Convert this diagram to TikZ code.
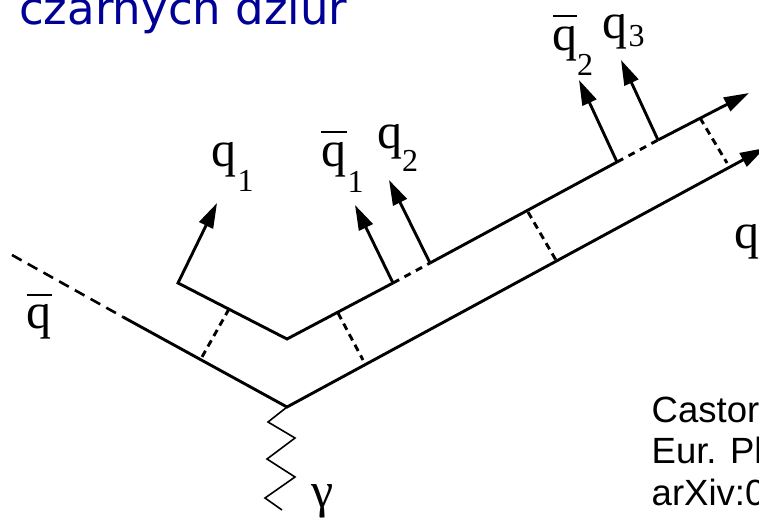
\documentclass[tikz,border=0pt]{standalone}
\usepackage{fontspec}
\setmainfont{Liberation Serif}
\newfontfamily\refsans{Liberation Sans}
\newfontfamily\titlesans{DejaVu Sans}
\usetikzlibrary{arrows.meta}
\definecolor{titleblue}{RGB}{0,0,150}
\begin{document}
\begin{tikzpicture}[x=1pt,y=-1pt,
  quark/.style={line width=2.9pt, line join=miter},
  gluon/.style={line width=2.9pt, dash pattern=on 7pt off 5pt},
  qdash/.style={line width=2.9pt, dash pattern=on 7pt off 6pt},
  farq/.style={line width=2.6pt, dash pattern=on 11pt off 7pt},
  emit/.style={line width=2.9pt,-{Triangle[length=25pt,width=15pt]}},
  photon/.style={line width=1.6pt, line join=miter},
  qlab/.style={anchor=base west, inner sep=0pt, font=\fontsize{50}{50}\selectfont},
  sublab/.style={anchor=base west, inner sep=0pt, font=\fontsize{32}{32}\selectfont},
  qbar/.style={line width=2.2pt},
  reftext/.style={anchor=base west, inner sep=0pt, font=\refsans\fontsize{36.5}{36.5}\selectfont},
]
\useasboundingbox (0,0) rectangle (759,519);
\clip (0,0) rectangle (759,519);

% title (cut off at the top)
\node[anchor=base west, inner sep=0pt, text=titleblue,
      font=\titlesans\fontsize{45}{45}\selectfont] (title) at (19,25) {czarnych dziur};

% junction points
\coordinate (V)  at (287,407);
\coordinate (A)  at (123,317);
\coordinate (D0) at (12,255);
\coordinate (L)  at (765,148);
\coordinate (P1) at (178,283);
\coordinate (P2) at (287,339);
\coordinate (P3) at (393,283);
\coordinate (P4) at (430,263);
\coordinate (P5) at (617,162);
\coordinate (P6) at (658,140);
\coordinate (P7) at (749,93);
\coordinate (T1) at (217,203);
\coordinate (T2) at (355,205);
\coordinate (T3) at (389,180);
\coordinate (T4) at (579,80);
\coordinate (T5) at (621,60);

% incoming antiquark and lower quark line
\draw[farq] (D0) -- (A);
\draw[quark,-{Triangle[length=25pt,width=15pt]}] (A) -- (V) -- (L);

% upper line
\draw[quark,{Triangle[length=25pt,width=15pt]}-] (T1) -- (P1) -- (P2) -- (P3);
\draw[qdash] (P3) -- (P4);
\draw[quark] (P4) -- (P5);
\draw[qdash] (P5) -- (P6);
\draw[emit] (P6) -- (P7);

% emitted quarks
\draw[emit] (P3) -- (T2);
\draw[emit] (P4) -- (T3);
\draw[emit] (P5) -- (T4);
\draw[emit] (P6) -- (T5);

% gluon rungs
\coordinate (G1a) at (229,309); \coordinate (G1b) at (202,357);
\coordinate (G2a) at (338,313); \coordinate (G2b) at (363,360);
\coordinate (G3a) at (528,212); \coordinate (G3b) at (557,262);
\coordinate (G4a) at (700,118); \coordinate (G4b) at (727,163);
\draw[gluon] (G1a) -- (G1b);
\draw[gluon] (G2a) -- (G2b);
\draw[gluon] (G3a) -- (G3b);
\draw[gluon] (G4a) -- (G4b);

% photon
\draw[photon] (V) -- (268,422) -- (295,438) -- (267,459) -- (295,477) -- (265,498) -- (282,510);

% labels
\node[qlab] (lq1) at (211,166) {q};
\node[sublab] (lq1s) at (237.5,191) {1};

\node[qlab] (lqb1) at (321,166) {q};
\draw[qbar] (321,132) -- (347,132);
\node[sublab] (lqb1s) at (347.5,192) {1};

\node[qlab] (lq2) at (377,148) {q};
\node[sublab] (lq2s) at (402,171) {2};

\node[qlab] (lqb2) at (552,51) {q};
\draw[qbar] (553,16) -- (577,16);
\node[sublab] (lqb2s) at (577,75) {2};

\node[qlab] (lq3) at (602,38) {q};
\node[sublab] (lq3s) at (628.5,46) {3};

\node[qlab] (lqb) at (26,328) {q};
\draw[qbar] (27,295) -- (52,295);

\node[qlab] (lqr) at (734,248) {q};

\node[qlab] (lgam) at (311,507) {γ};

% reference text (cut off at the right)
\node[reftext] (r1) at (651.5,422) {Castor};
\node[reftext] (r2) at (651.5,463) {Eur. Pl};
\node[reftext] (r3) at (651.5,505) {arXiv:0};
\end{tikzpicture}
\end{document}
